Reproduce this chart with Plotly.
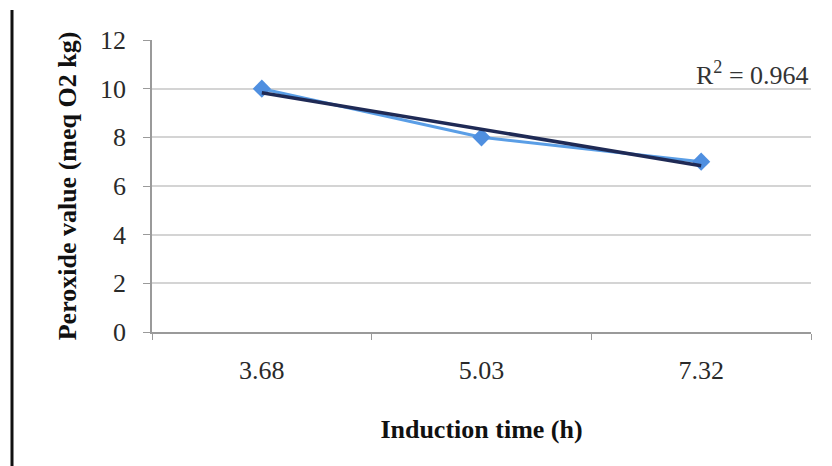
import numpy as np
import plotly.graph_objects as go

categories = ["3.68", "5.03", "7.32"]
peroxide = [10, 8, 7]

idx = np.arange(1, len(peroxide) + 1)
slope, intercept = np.polyfit(idx, peroxide, 1)
trend = list(slope * idx + intercept)
pred = np.array(trend)
y = np.array(peroxide)
r2 = 1 - np.sum((y - pred) ** 2) / np.sum((y - y.mean()) ** 2)

fig = go.Figure()
fig.add_trace(go.Scatter(
    x=categories, y=peroxide, mode="lines+markers",
    line=dict(color="#5a9ee6", width=3),
    marker=dict(symbol="diamond", size=14, color="#4f8fe0"),
    showlegend=False,
))
fig.add_trace(go.Scatter(
    x=categories, y=trend, mode="lines",
    line=dict(color="#1f2a55", width=3.5),
    showlegend=False,
))

font_family = "Liberation Serif, Times New Roman, serif"
fig.update_layout(
    width=832, height=466,
    margin=dict(l=152, r=21, t=40, b=134),
    paper_bgcolor="white", plot_bgcolor="white",
    font=dict(family=font_family, size=26, color="#222"),
    xaxis=dict(
        type="category", range=[-0.5, 2.5],
        showgrid=False, showline=True, linecolor="#9a9a9a", linewidth=1.5,
        ticks="outside", ticklen=6, tickcolor="#9a9a9a", tickson="boundaries",
        tickfont=dict(size=26, color="#2a2a2a"), ticklabelstandoff=14,
        automargin=False,
        title=dict(text="<b>Induction time (h)</b>", font=dict(size=26, color="#111"), standoff=36),
    ),
    yaxis=dict(
        range=[0, 12], dtick=2, tick0=0,
        showgrid=True, gridcolor="#d4d4d4", gridwidth=1.5,
        showline=True, linecolor="#9a9a9a", linewidth=1.5,
        ticks="outside", ticklen=7, tickcolor="#9a9a9a",
        zeroline=False, ticklabelstandoff=12, automargin=False,
        tickfont=dict(size=26, color="#2a2a2a"),
        title=dict(text="<b>Peroxide value (meq O2 kg)</b>", font=dict(size=26, color="#111"), standoff=16),
    ),
    annotations=[dict(
        x=1, y=10.64, xref="paper", yref="y", xanchor="right", yanchor="middle",
        text="R<sup>2</sup> = %.3f" % r2, showarrow=False,
        font=dict(size=26, color="#333"),
    )],
    shapes=[dict(type="line", xref="paper", yref="paper",
                 x0=-140 / 659, x1=-140 / 659, y0=-134 / 292, y1=(292 + 30) / 292,
                 line=dict(color="#111", width=3))],
)

fig.write_html("out.html")
